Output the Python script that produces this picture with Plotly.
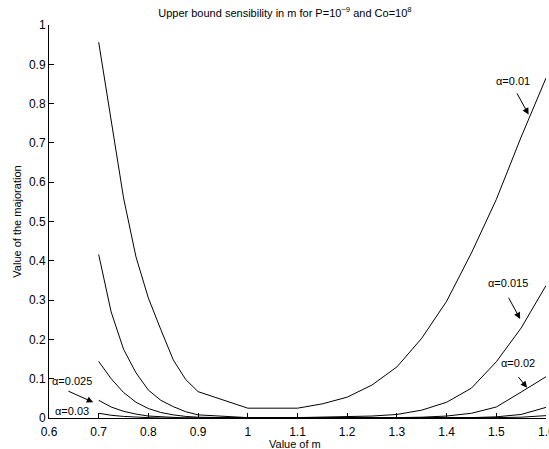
import plotly.graph_objects as go

# values of m (samples used by the original curves)
m_values = [0.7, 0.725, 0.75, 0.775, 0.8, 0.825, 0.85, 0.875, 0.9, 1.0, 1.1,
            1.15, 1.2, 1.25, 1.3, 1.35, 1.4, 1.45, 1.5, 1.55, 1.6]

# value of the majoration for each alpha
alpha_001 = [0.956, 0.755, 0.56, 0.41, 0.305, 0.225, 0.148, 0.098, 0.067,
             0.025, 0.025, 0.036, 0.053, 0.084, 0.13, 0.203, 0.297, 0.42,
             0.556, 0.715, 0.865]
alpha_0015 = [0.416, 0.27, 0.175, 0.115, 0.071, 0.045, 0.029, 0.016, 0.008,
              0.001, 0.001, 0.002, 0.003, 0.005, 0.009, 0.02, 0.04, 0.076,
              0.143, 0.229, 0.337]
alpha_002 = [0.144, 0.1, 0.065, 0.04, 0.024, 0.014, 0.008, 0.004, 0.002,
             0.0, 0.0, 0.0, 0.0, 0.0, 0.001, 0.002, 0.005, 0.012,
             0.028, 0.066, 0.105]
alpha_0025 = [0.045, 0.028, 0.017, 0.01, 0.005, 0.003, 0.001, 0.0, 0.0,
              0.0, 0.0, 0.0, 0.0, 0.0, 0.0, 0.0, 0.0, 0.001,
              0.003, 0.009, 0.027]
alpha_003 = [0.012, 0.007, 0.004, 0.002, 0.001, 0.0, 0.0, 0.0, 0.0,
             0.0, 0.0, 0.0, 0.0, 0.0, 0.0, 0.0, 0.0, 0.0,
             0.001, 0.002, 0.006]

series = [alpha_001, alpha_0015, alpha_002, alpha_0025, alpha_003]

x_ticks = [0.6, 0.7, 0.8, 0.9, 1.0, 1.1, 1.2, 1.3, 1.4, 1.5, 1.6]
x_tick_labels = ["0.6", "0.7", "0.8", "0.9", "1", "1.1", "1.2", "1.3",
                 "1.4", "1.5", "1.6"]

# labels: (text, text x, text y, arrow tail x, tail y, arrow tip x, tip y)
labels = [
    ("α=0.01", 1.534, 0.857, 1.54, 0.83, 1.565, 0.772),
    ("α=0.015", 1.524, 0.344, 1.523, 0.31, 1.548, 0.252),
    ("α=0.02", 1.544, 0.14, 1.542, 0.108, 1.562, 0.077),
    ("α=0.025", 0.646, 0.094, 0.636, 0.07, 0.689, 0.04),
]
plain_labels = [("α=0.03", 0.646, 0.017)]

FONT = "Liberation Sans, Arial, Helvetica, sans-serif"

fig = go.Figure()

for ys in series:
    fig.add_trace(go.Scatter(
        x=m_values, y=ys, mode="lines",
        line=dict(color="black", width=1),
        showlegend=False, hoverinfo="skip", cliponaxis=False
    ))

for text, tx, ty, ax, ay, hx, hy in labels:
    fig.add_annotation(x=tx, y=ty, text=text, showarrow=False,
                       font=dict(size=11, color="black"))
    fig.add_annotation(x=hx, y=hy, ax=ax, ay=ay, xref="x", yref="y",
                       axref="x", ayref="y", text="", showarrow=True,
                       arrowhead=2, arrowsize=1.3, arrowwidth=1,
                       arrowcolor="black")

for text, tx, ty in plain_labels:
    fig.add_annotation(x=tx, y=ty, text=text, showarrow=False,
                       font=dict(size=11, color="black"))

# last tick label is cut by the window edge in the original; plotly
# drops it, so draw it as an annotation
fig.add_annotation(x=x_ticks[-1], y=-0.036, xref="x", yref="paper",
                   xanchor="center", yanchor="middle",
                   text=x_tick_labels[-1], showarrow=False,
                   font=dict(size=12, color="black"))

# axis titles placed by hand, as in the original
fig.add_annotation(x=0.495, y=-0.066, xref="paper", yref="paper",
                   xanchor="center", yanchor="middle",
                   text="Value of m", showarrow=False,
                   font=dict(size=11, color="black"))
fig.add_annotation(x=-0.066, y=0.5, xref="paper", yref="paper",
                   xanchor="center", yanchor="middle",
                   text="Value of the majoration", showarrow=False,
                   textangle=-90, font=dict(size=11, color="black"))

fig.update_layout(
    width=549, height=449,
    margin=dict(l=49, r=3, t=25, b=31, autoexpand=False),
    paper_bgcolor="white", plot_bgcolor="white",
    font=dict(family=FONT, size=11, color="black"),
    title=dict(text="Upper bound sensibility in m for P=10<sup>−9</sup> and Co=10<sup>8</sup>",
               x=0.519, y=0.971, xanchor="center", yanchor="middle",
               font=dict(size=11, color="black")),
)

fig.update_xaxes(range=[0.6, 1.6], tickmode="array", tickvals=x_ticks,
                 ticktext=x_tick_labels, automargin=False,
                 showline=True, linecolor="black", linewidth=1,
                 ticks="inside", ticklen=5, tickcolor="black",
                 showgrid=False, zeroline=False, ticklabelstandoff=3,
                 tickfont=dict(size=12))
fig.update_yaxes(range=[0, 1], dtick=0.1, tick0=0, automargin=False,
                 showline=True, linecolor="black", linewidth=1,
                 ticks="inside", ticklen=5, tickcolor="black",
                 showgrid=False, zeroline=False,
                 tickfont=dict(size=12))

# drop the default page margin so the figure sits at the window corner
fig.write_html("out.html",
               config={"displayModeBar": False},
               post_script="document.body.style.margin='0';"
                           "document.body.style.overflow='hidden';")
